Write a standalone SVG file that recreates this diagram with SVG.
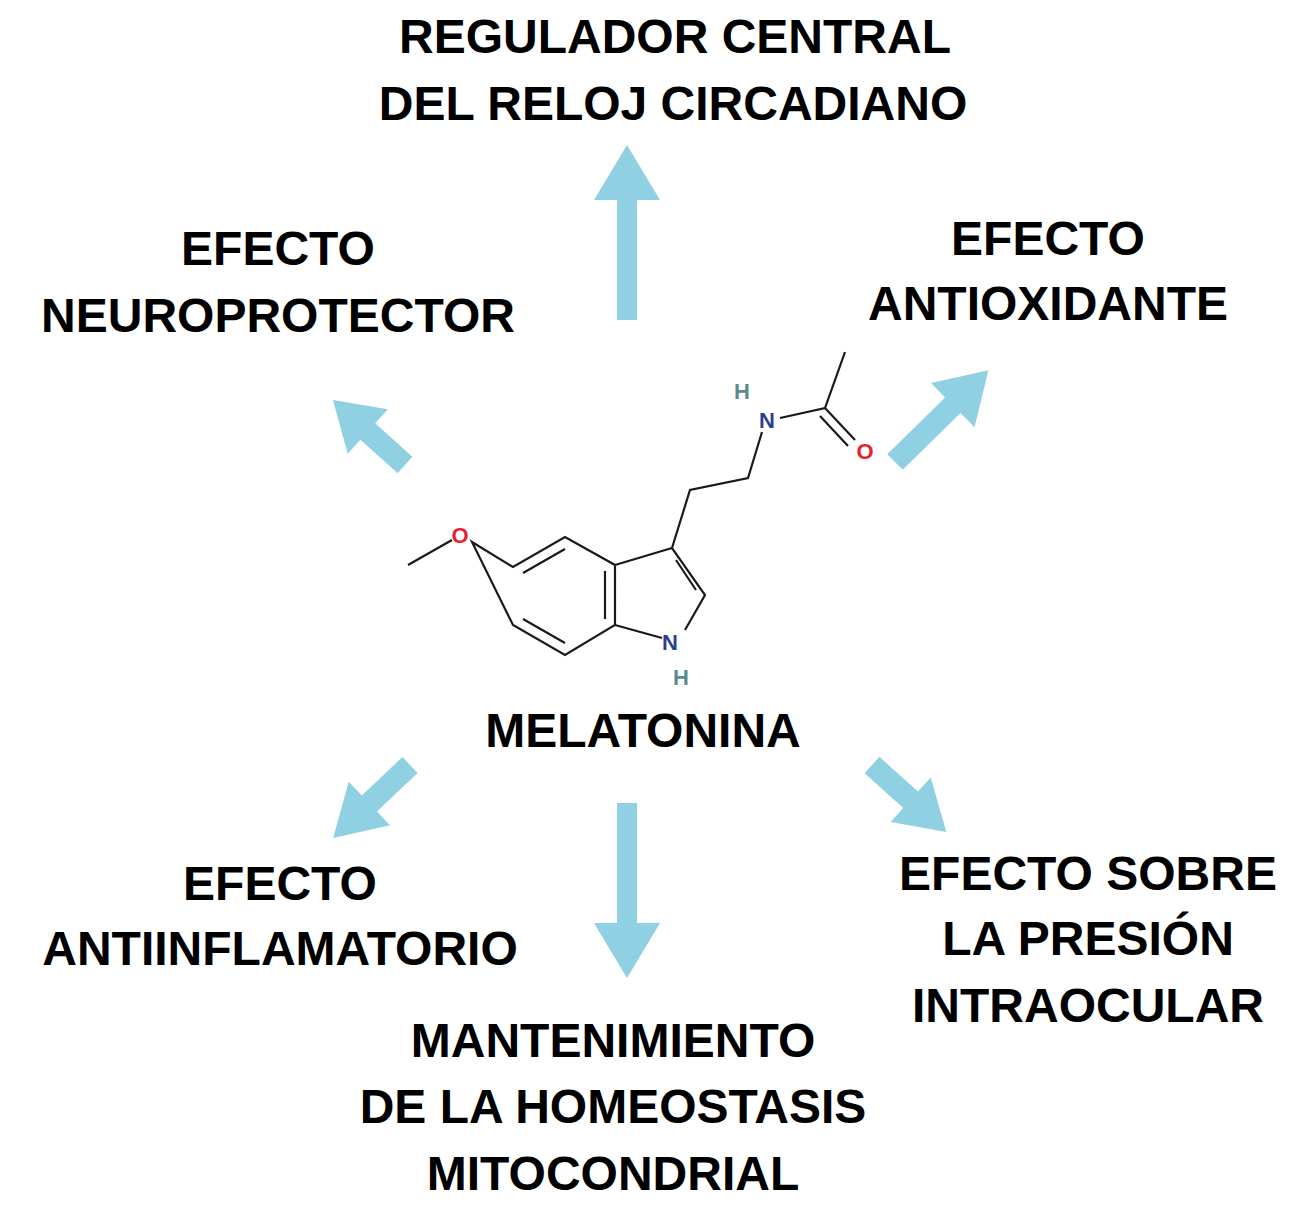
<svg xmlns="http://www.w3.org/2000/svg" width="1307" height="1218" viewBox="0 0 1307 1218">
<style>
.t{font-family:"Liberation Sans",Arial,sans-serif;font-weight:bold;font-size:48px;fill:#000;text-anchor:middle}
.ar{fill:#8fd0e2}
.b{stroke:#1a1a1a;stroke-width:2.2;fill:none}
.a{font-family:"Liberation Sans",Arial,sans-serif;font-weight:bold;font-size:22px;text-anchor:middle}
</style>
<rect width="1307" height="1218" fill="#fff"/>
<g id="connectors">
<polygon class="ar" transform="translate(627,320) rotate(-90)" points="0,-10 120,-10 120,-33 175,0 120,33 120,10 0,10"/>
<polygon class="ar" transform="translate(627,803) rotate(90)" points="0,-10 120,-10 120,-33 175,0 120,33 120,10 0,10"/>
<polygon class="ar" transform="translate(895,462) rotate(-44.5)" points="0,-11 81,-11 81,-31 131,0 81,31 81,11 0,11"/>
<polygon class="ar" transform="translate(405,465) rotate(222)" points="0,-11 50,-11 50,-30 97,0 50,30 50,11 0,11"/>
<polygon class="ar" transform="translate(410,765) rotate(136.5)" points="0,-11 56,-11 56,-30 106,0 56,30 56,11 0,11"/>
<polygon class="ar" transform="translate(872,765) rotate(42)" points="0,-11 52,-11 52,-30 100,0 52,30 52,11 0,11"/>
</g>
<g id="melatonina">
<path class="b" d="M408,565 L452,540 M472,542 L513,567 L565,537 L615,565 L615,625 L565,655 L513,625 Z M523,573 L565,549 M605,571 L605,619 M523,619 L565,643 M615,565 L672,548 L705,595 L685,630 M615,625 L662,638 M676,560 L696,590 M672,548 L690,490 L748,478 L762,432 M780,418 L825,408 L845,352 M825,408 L855,440 M820,416 L848,446"/>
<text class="a" x="460" y="543" fill="#e52330">O</text>
<text class="a" x="670" y="650" fill="#2c3f8f">N</text>
<text class="a" x="681" y="685" fill="#5d8a8f" font-size="20">H</text>
<text class="a" x="767" y="428" fill="#2c3f8f">N</text>
<text class="a" x="742" y="399" fill="#5d8a8f" font-size="20">H</text>
<text class="a" x="865" y="459" fill="#e52330">O</text>
<text class="t" x="643" y="747">MELATONINA</text>
</g>
<g id="regulador"><text class="t" x="675" y="53">REGULADOR CENTRAL</text><text class="t" x="673" y="120">DEL RELOJ CIRCADIANO</text></g>
<g id="neuro"><text class="t" x="278" y="265">EFECTO</text><text class="t" x="278" y="332">NEUROPROTECTOR</text></g>
<g id="antiox"><text class="t" x="1048" y="255">EFECTO</text><text class="t" x="1048" y="320">ANTIOXIDANTE</text></g>
<g id="antiinf"><text class="t" x="280" y="900">EFECTO</text><text class="t" x="280" y="965">ANTIINFLAMATORIO</text></g>
<g id="presion"><text class="t" x="1088" y="890">EFECTO SOBRE</text><text class="t" x="1088" y="955">LA PRESIÓN</text><text class="t" x="1088" y="1022">INTRAOCULAR</text></g>
<g id="mito"><text class="t" x="613" y="1057">MANTENIMIENTO</text><text class="t" x="613" y="1123">DE LA HOMEOSTASIS</text><text class="t" x="613" y="1190">MITOCONDRIAL</text></g>
</svg>
